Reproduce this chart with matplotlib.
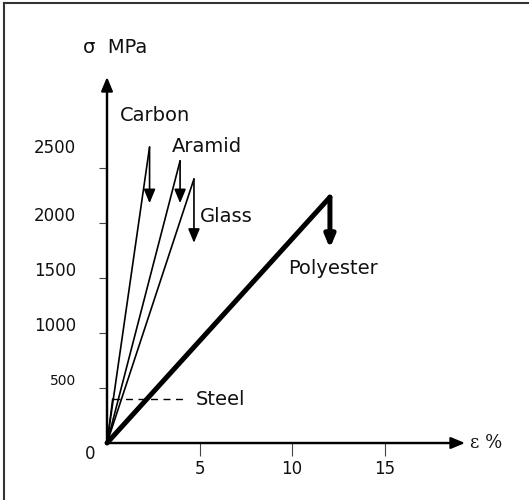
import numpy as np
import matplotlib
matplotlib.use("Agg")
import matplotlib.pyplot as plt
from matplotlib.lines import Line2D

# fibre stress-strain data (strain in %, stress in MPa)
fibres = ["Carbon", "Aramid", "Glass", "Polyester"]
fail_strain = [2.3, 3.95, 4.7, 12.05]
fail_stress = [2690, 2565, 2400, 2235]
drop_stress = [2180, 2180, 1820, 1770]

# steel: short elastic part then yield plateau
steel_strain = [0.0, 0.3, 4.1]
steel_stress = [0, 400, 400]

y_ticks = [500, 1000, 1500, 2000, 2500]
x_ticks = [5, 10, 15]

TXT = "#111111"

fig = plt.figure(figsize=(5.29, 5.00), dpi=100)
ax = fig.add_axes([0, 0, 1, 1])
ax.set_xlim(-5.784, 22.81)
ax.set_ylim(-518, 4027)
ax.patch.set_visible(False)

# figure frame (top + left edges only)
fig.add_artist(Line2D([4 / 529, 1], [1 - 3 / 500, 1 - 3 / 500], color="#333333", lw=1.5))
fig.add_artist(Line2D([4 / 529, 4 / 529], [0, 1 - 3 / 500], color="#333333", lw=1.5))

# axes as arrows
ymax_axis = 3327
xmax_axis = 19.35
for s in ["top", "right"]:
    ax.spines[s].set_visible(False)
ax.spines["left"].set_position(("data", 0))
ax.spines["bottom"].set_position(("data", 0))
ax.spines["left"].set_bounds(0, ymax_axis - 100)
ax.spines["bottom"].set_bounds(0, xmax_axis - 0.5)
ax.spines["left"].set_linewidth(1.6)
ax.spines["bottom"].set_linewidth(1.6)
ax.annotate("", xy=(0, ymax_axis), xytext=(0, 0),
            arrowprops=dict(arrowstyle="-|>,head_length=0.6,head_width=0.25", color="black",
                            lw=1.6, mutation_scale=14, shrinkA=0, shrinkB=0))
ax.annotate("", xy=(xmax_axis, 0), xytext=(0, 0),
            arrowprops=dict(arrowstyle="-|>,head_length=0.6,head_width=0.25", color="black",
                            lw=1.6, mutation_scale=14, shrinkA=0, shrinkB=0))

ax.set_yticks(y_ticks)
ax.set_xticks(x_ticks)
ax.set_yticklabels([])
ax.set_xticklabels([])
ax.tick_params(axis="y", direction="out", length=6, width=0.8, color="#444444")
ax.tick_params(axis="x", direction="out", length=9, width=0.8, color="#444444")

# tick labels
for v in y_ticks:
    dy = 20 if v == 2500 else 7
    ax.annotate(str(v), xy=(0, v), xytext=(-31, dy), textcoords="offset pixels",
                ha="right", va="center", fontsize=12 if v != 500 else 10, color=TXT)
for v in x_ticks:
    ax.annotate(str(v), xy=(v, 0), xytext=(0, -26), textcoords="offset pixels",
                ha="center", va="center", fontsize=12, color=TXT)
ax.annotate("0", xy=(0, 0), xytext=(-17, -11), textcoords="offset pixels",
            ha="center", va="center", fontsize=12, color=TXT)

# axis titles
ax.annotate("σ  MPa", xy=(0, ymax_axis), xytext=(-24, 30), textcoords="offset pixels",
            ha="left", va="center", fontsize=14, color=TXT)
ax.annotate("ε %", xy=(xmax_axis, 0), xytext=(5, 0), textcoords="offset pixels",
            ha="left", va="center", fontsize=13, color=TXT, family="DejaVu Serif")

# fibre curves and failure drops
widths = [1.2, 1.2, 1.2, 3.6]
heads = [14, 14, 14, 12]
label_off = [(-30, 32), (-8, 14), (6, -38), (-42, -71)]
for name, e, s, d, lw, hs, off in zip(fibres, fail_strain, fail_stress, drop_stress,
                                      widths, heads, label_off):
    ax.plot([0, e], [0, s], color="black", lw=lw, solid_capstyle="round")
    ax.annotate("", xy=(e, d), xytext=(e, s),
                arrowprops=dict(arrowstyle="-|>,head_length=0.6,head_width=0.25", color="black",
                                lw=lw, mutation_scale=hs, shrinkA=0, shrinkB=0))
    ax.annotate(name, xy=(e, s), xytext=off, textcoords="offset pixels",
                ha="left", va="center", fontsize=14, color=TXT)

# steel
ax.plot(steel_strain[:2], steel_stress[:2], color="black", lw=1.0)
ax.plot(steel_strain[1:], steel_stress[1:], color="black", lw=1.0, ls=(0, (5, 4)))
ax.annotate("Steel", xy=(steel_strain[-1], steel_stress[-1]), xytext=(13, 0),
            textcoords="offset pixels", ha="left", va="center", fontsize=14, color=TXT)

fig.savefig("out.png", dpi=100, facecolor="white")
